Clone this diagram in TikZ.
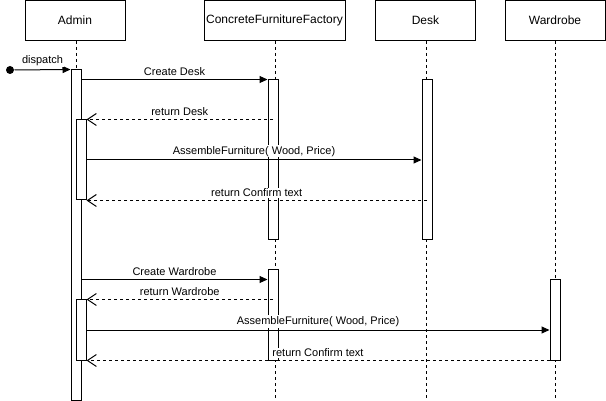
\documentclass[tikz,border=0pt]{standalone}
\usepackage{fontspec}
\setmainfont{Liberation Sans}
\usetikzlibrary{arrows.meta}
\usetikzlibrary{calc}
\tikzstyle{actor} = [draw, rectangle, minimum height=40pt, minimum width=100pt,
    inner sep=0pt, font=\fontsize{12}{14}\selectfont]
\tikzstyle{activation} = [draw, fill=white, rectangle, minimum width=10pt, inner sep=0pt]
\tikzstyle{lifeline} = [dash pattern=on 3pt off 3pt]
\tikzstyle{msg} = [-{Triangle[length=8pt,width=7pt]}]
\tikzstyle{ret} = [dash pattern=on 3pt off 3pt, -{Straight Barb[length=9pt,width=12pt]}]
\tikzstyle{lbl} = [midway, above=2pt, fill=white, inner sep=1pt, font=\fontsize{11}{13}\selectfont]
\begin{document}
\begin{tikzpicture}[x=1pt, y=-1pt, line width=1pt]
    \useasboundingbox (0,0) rectangle (606,401);
    \node [actor] at (75,20.5) (admin) {Admin};
    \node [actor, minimum width=141pt] at (274.5,20.5) (factory) {ConcreteFurnitureFactory};
    \node [actor] at (425.5,20.5) (desk) {Desk};
    \node [actor] at (555,20.5) (wardrobe) {Wardrobe};
    \coordinate (bottom) at (0,400);
    \draw [lifeline] (admin.south) ++(1,0) coordinate (adminl) -- (adminl |- bottom);
    \draw [lifeline] (factory.south) ++(0.5,0) coordinate (factoryl) -- (factoryl |- bottom);
    \draw [lifeline] (desk.south) ++(0.5,0) coordinate (deskl) -- (deskl |- bottom);
    \draw [lifeline] (wardrobe.south) -- (wardrobe.south |- bottom);
    \node [activation, minimum height=330pt] at (76,235) (act1) {};
    \node [activation, minimum height=80pt] at (81,160) (act2) {};
    \node [activation, minimum height=60pt] at (81,330) (act3) {};
    \node [activation, minimum height=160pt] at (273,160) (fact1) {};
    \node [activation, minimum height=90pt] at (273,315) (fact2) {};
    \node [activation, minimum height=160pt] at (427,160) (desk1) {};
    \node [activation, minimum height=80pt] at (555,320) (ward1) {};
    \node [circle, fill, inner sep=0pt, minimum size=8pt] at (10,70) (start) {};
    \draw [msg] (start) -- node [lbl] {dispatch} (act1.north west);
    \draw [msg] (fact1.north west -| act1.east) -- node [lbl] {Create Desk} (fact1.north west);
    \draw [ret] (act2.north east -| fact1) -- node [lbl] {return Desk} (act2.north east);
    \draw [msg] (act2.east) -- node [lbl] {AssembleFurniture( Wood, Price)} (act2.east -| desk1.west);
    \draw [ret] (act2.south east -| desk1) -- node [lbl] {return Confirm text} (act2.south east);
    \draw [msg] (ward1.north -| act1.east) -- node [lbl] {Create Wardrobe} (ward1.north -| fact2.west);
    \draw [ret] (act3.north east -| fact2) -- node [lbl] {return Wardrobe} (act3.north east);
    \draw [msg] (act3.east) -- node [lbl] {AssembleFurniture( Wood, Price)} (act3.east -| ward1.west);
    \draw [ret] (ward1.south west) -- node [lbl] {return Confirm text} (act3.south east);
\end{tikzpicture}
\end{document}
